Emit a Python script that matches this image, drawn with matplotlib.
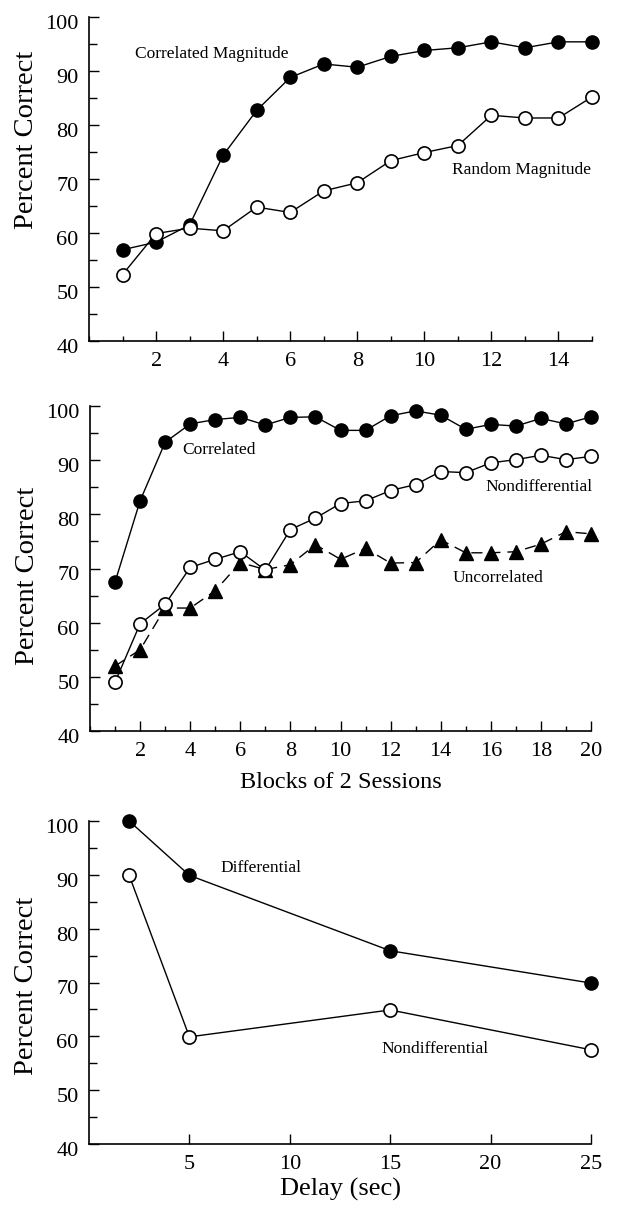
import matplotlib
matplotlib.use("Agg")
import matplotlib.pyplot as plt
from matplotlib.ticker import MultipleLocator, FixedLocator
from matplotlib.transforms import ScaledTranslation

plt.rcParams['font.family'] = ['Liberation Serif', 'DejaVu Serif']

# Panel A
blocks_a = list(range(1, 16))
correlated_mag = [56.9, 58.3, 61.5, 74.4, 82.7, 88.8, 91.3, 90.7, 92.7, 93.8, 94.3, 95.4, 94.3, 95.4, 95.4]
random_mag = [52.3, 59.9, 60.9, 60.4, 64.8, 63.8, 67.8, 69.3, 73.4, 74.9, 76.2, 81.8, 81.3, 81.3, 85.2]
ticks_a = [2, 4, 6, 8, 10, 12, 14]

# Panel B
blocks_b = list(range(1, 21))
correlated = [67.5, 82.5, 93.3, 96.7, 97.5, 97.9, 96.5, 97.9, 98.0, 95.5, 95.5, 98.2, 99.1, 98.3, 95.7, 96.6, 96.3, 97.7, 96.7, 98.0]
nondiff_b = [49.0, 59.8, 63.4, 70.2, 71.7, 73.1, 69.7, 77.2, 79.3, 82.0, 82.5, 84.4, 85.5, 87.9, 87.7, 89.5, 90.1, 90.9, 90.1, 90.7]
uncorrelated = [52.0, 55.0, 62.7, 62.7, 65.9, 71.1, 69.8, 70.7, 74.4, 71.7, 73.7, 71.0, 71.1, 75.3, 72.9, 72.9, 73.1, 74.5, 76.8, 76.4]
ticks_b = [2, 4, 6, 8, 10, 12, 14, 16, 18, 20]

# Panel C
delays = [2, 5, 15, 25]
differential = [100.0, 89.9, 75.9, 69.9]
nondiff_c = [89.9, 59.9, 64.9, 57.5]
ticks_c = [5, 10, 15, 20, 25]

y_ticks = [40, 50, 60, 70, 80, 90, 100]

W, H = 617, 1209
fig = plt.figure(figsize=(W / 100, H / 100), dpi=100)

def ax_at(left, top, right, bottom):
    return fig.add_axes([left / W, 1 - bottom / H, (right - left) / W, (bottom - top) / H])

ax1 = ax_at(89, 17, 592, 341)
ax2 = ax_at(90, 406, 591, 731)
ax3 = ax_at(89, 821, 591, 1144)

ms = 9.5
lw = 1.0
for ax in (ax1, ax2, ax3):
    ax.spines['top'].set_visible(False)
    ax.spines['right'].set_visible(False)
    ax.spines['left'].set_linewidth(1.2)
    ax.spines['bottom'].set_linewidth(1.2)
    ax.set_ylim(40, 100)
    ax.yaxis.set_major_locator(FixedLocator(y_ticks))
    ax.yaxis.set_minor_locator(MultipleLocator(5))
    ax.tick_params(which='both', direction='in', width=1.0, labelsize=16)
    ax.tick_params(axis='y', which='major', length=7, pad=7.5)
    ax.tick_params(axis='y', which='minor', length=6)
    ax.tick_params(axis='x', which='major', length=7, pad=8)
    ax.tick_params(axis='x', which='minor', length=3.5)
    ax.set_ylabel('Percent Correct', fontsize=20.5)

ax1.yaxis.set_label_coords(-0.099, 0.62)
ax2.yaxis.set_label_coords(-0.099, 0.477)
ax3.yaxis.set_label_coords(-0.099, 0.489)

# Panel A
ax1.plot(blocks_a, correlated_mag, '-o', color='black', mfc='black', mec='black', ms=ms, lw=lw, zorder=3, clip_on=False)
ax1.plot(blocks_a, random_mag, '-o', color='black', mfc='white', mec='black', ms=ms, lw=lw, mew=1.2, zorder=4, clip_on=False)
ax1.set_xlim(0, 15)
ax1.xaxis.set_major_locator(FixedLocator(ticks_a))
ax1.xaxis.set_minor_locator(MultipleLocator(1))
ax1.text(1.37, 93.2, 'Correlated Magnitude', fontsize=12.5, va='center', ha='left')
ax1.text(10.83, 71.7, 'Random Magnitude', fontsize=12.5, va='center', ha='left')

# Panel B
ax2.plot(blocks_b, uncorrelated, '^', color='black', ms=ms, lw=lw, ls=(0, (8, 5)), zorder=3, clip_on=False)
ax2.plot(blocks_b, correlated, '-o', color='black', mfc='black', mec='black', ms=ms, lw=lw, zorder=3, clip_on=False)
ax2.plot(blocks_b, nondiff_b, '-o', color='black', mfc='white', mec='black', ms=ms, lw=lw, mew=1.2, zorder=4, clip_on=False)
ax2.set_xlim(0, 20)
ax2.xaxis.set_major_locator(FixedLocator(ticks_b))
ax2.xaxis.set_minor_locator(MultipleLocator(1))
ax2.set_xlabel('Blocks of 2 Sessions', fontsize=17.5, labelpad=8)
ax2.text(3.7, 91.8, 'Correlated', fontsize=12.5, va='center', ha='left')
ax2.text(15.77, 85.0, 'Nondifferential', fontsize=12.5, va='center', ha='left')
ax2.text(14.48, 68.2, 'Uncorrelated', fontsize=12.5, va='center', ha='left')

# Panel C
ax3.plot(delays, differential, '-o', color='black', mfc='black', mec='black', ms=ms, lw=lw, zorder=3, clip_on=False)
ax3.plot(delays, nondiff_c, '-o', color='black', mfc='white', mec='black', ms=ms, lw=lw, mew=1.2, zorder=4, clip_on=False)
ax3.set_xlim(0, 25)
ax3.xaxis.set_major_locator(FixedLocator(ticks_c))
ax3.set_xlabel('Delay (sec)', fontsize=19, labelpad=3)
ax3.text(6.57, 91.3, 'Differential', fontsize=12.5, va='center', ha='left')
ax3.text(14.54, 57.6, 'Nondifferential', fontsize=12.5, va='center', ha='left')

# y tick labels sit slightly below their ticks in the reference
offset = ScaledTranslation(0, -5 / 100, fig.dpi_scale_trans)
for ax in (ax1, ax2, ax3):
    for t in ax.yaxis.get_major_ticks():
        t.label1.set_transform(t.label1.get_transform() + offset)

fig.savefig('out.png', dpi=100)
